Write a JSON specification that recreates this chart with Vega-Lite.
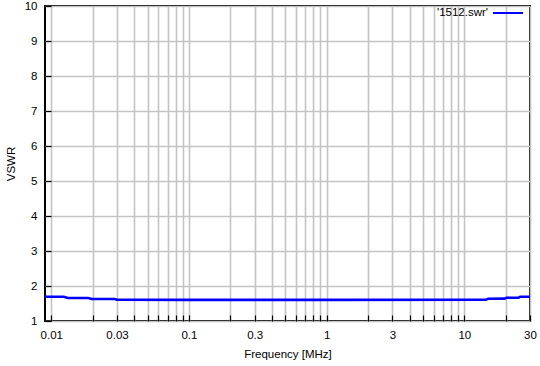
{
  "$schema": "https://vega.github.io/schema/vega-lite/v6.json",
  "width": 485,
  "height": 315,
  "autosize": {"type": "none"},
  "padding": {"left": 45, "top": 6, "right": 10, "bottom": 45},
  "background": "white",
  "config": {
    "font": "Liberation Sans",
    "view": {"stroke": "#000000", "strokeWidth": 2},
    "axis": {
      "domain": false,
      "grid": true,
      "gridColor": "#c4c4c4",
      "gridWidth": 1.6,
      "tickColor": "#000000",
      "tickSize": -6,
      "tickWidth": 1.2,
      "labelFont": "Liberation Sans",
      "labelFontSize": 11.5,
      "labelColor": "#000000",
      "titleFont": "Liberation Sans",
      "titleFontSize": 11.5,
      "titleFontWeight": "normal",
      "titleColor": "#000000"
    }
  },
  "data": {
    "values": [
      {"freq": 0.009, "vswr": 1.694, "series": "'1512.swr'"},
      {"freq": 0.0123, "vswr": 1.694, "series": "'1512.swr'"},
      {"freq": 0.0132, "vswr": 1.657, "series": "'1512.swr'"},
      {"freq": 0.0186, "vswr": 1.657, "series": "'1512.swr'"},
      {"freq": 0.0196, "vswr": 1.63, "series": "'1512.swr'"},
      {"freq": 0.0289, "vswr": 1.63, "series": "'1512.swr'"},
      {"freq": 0.03, "vswr": 1.605, "series": "'1512.swr'"},
      {"freq": 0.1, "vswr": 1.603, "series": "'1512.swr'"},
      {"freq": 1, "vswr": 1.603, "series": "'1512.swr'"},
      {"freq": 14.3, "vswr": 1.605, "series": "'1512.swr'"},
      {"freq": 14.9, "vswr": 1.635, "series": "'1512.swr'"},
      {"freq": 19.5, "vswr": 1.638, "series": "'1512.swr'"},
      {"freq": 20.3, "vswr": 1.666, "series": "'1512.swr'"},
      {"freq": 24.8, "vswr": 1.668, "series": "'1512.swr'"},
      {"freq": 25.5, "vswr": 1.694, "series": "'1512.swr'"},
      {"freq": 30, "vswr": 1.694, "series": "'1512.swr'"}
    ]
  },
  "mark": {"type": "line", "strokeWidth": 2.6, "clip": true},
  "encoding": {
    "x": {
      "field": "freq",
      "type": "quantitative",
      "scale": {"type": "log", "domain": [0.009, 30], "nice": false},
      "axis": {
        "title": "Frequency [MHz]",
        "titlePadding": 8,
        "labelPadding": 14,
        "values": [0.01, 0.02, 0.03, 0.04, 0.05, 0.06, 0.07, 0.08, 0.09, 0.1, 0.2, 0.3, 0.4, 0.5, 0.6, 0.7, 0.8, 0.9, 1, 2, 3, 4, 5, 6, 7, 8, 9, 10, 20, 30],
        "labelExpr": "indexof([0.01, 0.03, 0.1, 0.3, 1, 3, 10, 30], datum.value) >= 0 ? '' + datum.value : ''",
        "labelFlush": false,
        "labelOverlap": false
      }
    },
    "y": {
      "field": "vswr",
      "type": "quantitative",
      "scale": {"domain": [1, 10], "nice": false, "zero": false},
      "axis": {
        "title": "VSWR",
        "titlePadding": 8,
        "labelPadding": 14,
        "values": [1, 2, 3, 4, 5, 6, 7, 8, 9, 10],
        "format": "d"
      }
    },
    "color": {
      "field": "series",
      "type": "nominal",
      "scale": {"range": ["#0000ff"]},
      "legend": {
        "title": null,
        "orient": "none",
        "legendX": 447,
        "legendY": -9,
        "symbolType": "stroke",
        "symbolSize": 900,
        "symbolStrokeWidth": 2,
        "labelFont": "Liberation Sans",
        "labelFontSize": 11.5,
        "labelColor": "#000000",
        "labelAlign": "right",
        "labelOffset": -36,
        "padding": 0
      }
    }
  }
}
